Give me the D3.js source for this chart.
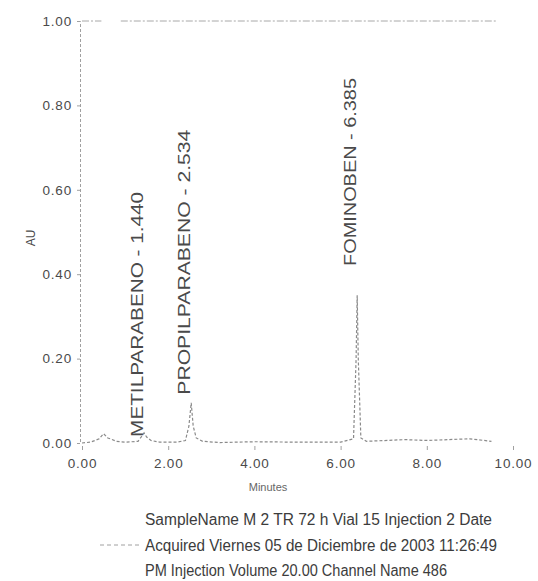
<!DOCTYPE html>
<html>
<head>
<meta charset="utf-8">
<script src="https://cdn.jsdelivr.net/npm/d3@7"></script>
<style>
  html, body { margin: 0; padding: 0; background: #fff; }
  svg { display: block; font-family: "Liberation Sans", Arial, sans-serif; }
</style>
</head>
<body>
<svg id="chart" width="538" height="581"></svg>
<script>
// Chromatogram trace: retention time (min) and absorbance (AU)
const traceTime = [0.00, 0.20, 0.40, 0.50, 0.60, 0.80, 1.00, 1.30, 1.40, 1.44, 1.50, 1.60, 1.80,
                   2.20, 2.40, 2.48, 2.534, 2.58, 2.65, 2.80, 3.20, 4.00, 5.00, 6.00, 6.30,
                   6.36, 6.385, 6.41, 6.47, 6.60, 7.50, 8.00, 9.00, 9.50];
const traceAU   = [0.000, 0.002, 0.010, 0.022, 0.012, 0.004, 0.002, 0.004, 0.018, 0.024, 0.014, 0.006, 0.002,
                   0.002, 0.006, 0.040, 0.095, 0.040, 0.012, 0.004, 0.001, 0.003, 0.002, 0.002, 0.010,
                   0.200, 0.350, 0.200, 0.012, 0.004, 0.008, 0.006, 0.010, 0.004];

// Identified peaks
const peakNames = ["METILPARABENO", "PROPILPARABENO", "FOMINOBEN"];
const peakTimes = [1.440, 2.534, 6.385];
const peakLabelAU = [0.005, 0.105, 0.410];

// Axis ticks
const xTicks = [0, 2, 4, 6, 8, 10];
const yTicks = [0, 0.2, 0.4, 0.6, 0.8, 1.0];

// Run information printed under the plot
const infoLines = [
  "SampleName M 2 TR 72 h Vial 15 Injection 2 Date",
  "Acquired Viernes 05 de Diciembre de 2003 11:26:49",
  "PM Injection Volume 20.00 Channel Name 486"
];

const svg = d3.select("#chart");
const x = d3.scaleLinear().domain([0, 10]).range([82, 513]);
const y = d3.scaleLinear().domain([0, 1]).range([443, 21]);

const axisColor = "#a0a0a0";
const textColor = "#4a4a4a";

// Left axis
const yAxis = svg.append("g")
  .attr("transform", `translate(80,0)`)
  .call(d3.axisLeft(y).tickValues(yTicks).tickFormat(d3.format(".2f")).tickSize(3));
yAxis.select(".domain").attr("stroke", axisColor).attr("stroke-dasharray", "3,2");
yAxis.selectAll(".tick line").attr("stroke", axisColor);
yAxis.selectAll(".tick text")
  .attr("fill", textColor).attr("font-size", 13.5)
  .attr("letter-spacing", 0.8).attr("x", -8);

// Bottom axis (no baseline; the trace itself forms it)
const xAxis = svg.append("g")
  .attr("transform", `translate(0,446)`)
  .call(d3.axisBottom(x).tickValues(xTicks).tickFormat(d3.format(".2f")).tickSize(4));
xAxis.select(".domain").remove();
xAxis.selectAll(".tick line").attr("stroke", axisColor);
xAxis.selectAll(".tick text")
  .attr("fill", textColor).attr("font-size", 13.5)
  .attr("letter-spacing", 0.8).attr("y", 12);

// Top frame line at 1.00, broken near the axis
[[0, 0.45], [0.9, 9.6]].forEach(([a, b]) => {
  svg.append("line")
    .attr("x1", x(a)).attr("x2", x(b))
    .attr("y1", y(1)).attr("y2", y(1))
    .attr("stroke", "#a8a8a8").attr("stroke-width", 1)
    .attr("stroke-dasharray", "7,2,2,2");
});

// Trace
const line = d3.line()
  .x((d, i) => x(traceTime[i]))
  .y((d, i) => y(traceAU[i]));
svg.append("path")
  .datum(traceAU)
  .attr("d", line)
  .attr("fill", "none")
  .attr("stroke", "#8a8a8a")
  .attr("stroke-width", 1.2)
  .attr("stroke-dasharray", "3,2");

// Peak labels, rotated, starting just above each apex
const labelLengths = [245, 265, 188];
peakNames.forEach((name, i) => {
  const px = x(peakTimes[i]) - 1;
  const py = y(peakLabelAU[i]) - 4;
  svg.append("text")
    .attr("transform", `translate(${px},${py}) rotate(-90)`)
    .attr("fill", textColor)
    .attr("font-size", 17)
    .attr("textLength", labelLengths[i])
    .attr("lengthAdjust", "spacingAndGlyphs")
    .text(`${name} - ${peakTimes[i].toFixed(3)}`);
});

// Axis titles
svg.append("text")
  .attr("transform", `translate(35,238) rotate(-90)`)
  .attr("text-anchor", "middle")
  .attr("fill", textColor)
  .attr("font-size", 12)
  .text("AU");
svg.append("text")
  .attr("x", 268).attr("y", 491)
  .attr("text-anchor", "middle")
  .attr("fill", "#666")
  .attr("font-size", 11)
  .text("Minutes");

// Legend swatch and run information
svg.append("line")
  .attr("x1", 100).attr("x2", 139).attr("y1", 545).attr("y2", 545)
  .attr("stroke", "#a0a0a0").attr("stroke-dasharray", "4,3");
const infoLengths = [347, 352, 302];
svg.selectAll("text.info")
  .data(infoLines)
  .join("text")
  .attr("class", "info")
  .attr("x", 145)
  .attr("y", (d, i) => 525 + i * 25.5)
  .attr("fill", "#3c3c3c")
  .attr("font-size", 16)
  .attr("textLength", (d, i) => infoLengths[i])
  .attr("lengthAdjust", "spacingAndGlyphs")
  .text(d => d);
</script>
</body>
</html>
